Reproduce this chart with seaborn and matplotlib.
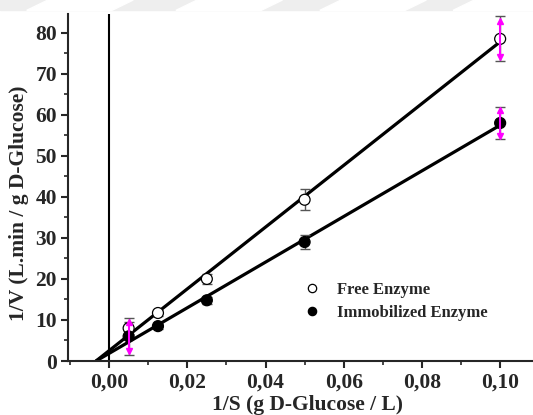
import numpy as np
import pandas as pd
import matplotlib
matplotlib.use("Agg")
import matplotlib.pyplot as plt
import seaborn as sns
from matplotlib.ticker import MultipleLocator, FuncFormatter
from matplotlib.patches import Polygon

# Lineweaver-Burk data
inv_s = [0.005, 0.0125, 0.025, 0.05, 0.1]
free_inv_v = [8.0, 11.7, 20.0, 39.3, 78.5]
free_err = [1.5, 0.8, 1.2, 2.6, 5.5]
immob_inv_v = [6.0, 8.5, 14.8, 29.0, 58.0]
immob_err = [4.5, 0.8, 0.8, 1.8, 4.0]
series_names = ["Free Enzyme", "Immobilized Enzyme"]

sns.set_style("ticks")
plt.rcParams["font.family"] = ["Liberation Serif", "DejaVu Serif"]
plt.rcParams["font.weight"] = "bold"

df = pd.DataFrame({
    "x": inv_s * 2,
    "y": free_inv_v + immob_inv_v,
    "err": free_err + immob_err,
    "series": [series_names[0]] * len(inv_s) + [series_names[1]] * len(inv_s),
})

fig = plt.figure(figsize=(5.33, 4.15), dpi=100)

# faint banner across the top of the figure
fig.patches.append(plt.Rectangle((0, 0.975), 1, 0.025, transform=fig.transFigure,
                                 color="#eeeeee", zorder=0))
for x0 in [0.05, 0.33, 0.6, 0.85]:
    fig.patches.append(Polygon([[x0, 0.975], [x0 + 0.04, 1.0], [x0 + 0.2, 1.0], [x0 + 0.16, 0.975]],
                               closed=True, transform=fig.transFigure, color="white", zorder=0))

ax = fig.add_axes([0.1276, 0.1301, 0.8724, 0.8365])
ax.set_xlim(-0.0105, 0.1084)
ax.set_ylim(0, 84.6)

# linear fits extended to the 1/V = 0 crossing
for name in series_names:
    sub = df[df["series"] == name]
    k, b = np.polyfit(sub["x"], sub["y"], 1)
    xs = np.array([-b / k, sub["x"].max()])
    sns.lineplot(x=xs, y=k * xs + b, ax=ax, color="black", lw=2.3, zorder=2)

# error bars with grey caps
for _, r in df.iterrows():
    ax.errorbar(r["x"], r["y"], yerr=r["err"], fmt="none", ecolor="#555555",
                elinewidth=1.0, capsize=3.5, capthick=1.0, zorder=3)

sns.scatterplot(data=df, x="x", y="y", hue="series", style="series",
                palette={series_names[0]: "white", series_names[1]: "black"},
                markers={series_names[0]: "o", series_names[1]: "o"},
                s=62, edgecolor="black", linewidth=0.9, ax=ax, zorder=5)

# magenta double arrows over the widest error bars
for _, r in df[df["err"] >= 4].iterrows():
    d = r["err"] * 0.8
    ax.plot([r["x"], r["x"]], [r["y"] - d, r["y"] + d], color="#ff00ff", lw=1.5, zorder=6)
    ax.plot(r["x"], r["y"] + d, marker="^", color="#ff00ff", ms=5, zorder=6)
    ax.plot(r["x"], r["y"] - d, marker="v", color="#ff00ff", ms=5, zorder=6)

# vertical reference line at 1/S = 0
ax.axvline(0, color="black", lw=1.5, zorder=1)

sns.despine(ax=ax)
for side in ["left", "bottom"]:
    ax.spines[side].set_linewidth(1.5)

ax.xaxis.set_major_locator(MultipleLocator(0.02))
ax.xaxis.set_minor_locator(MultipleLocator(0.01))
ax.yaxis.set_major_locator(MultipleLocator(10))
ax.yaxis.set_minor_locator(MultipleLocator(5))
ax.xaxis.set_major_formatter(FuncFormatter(lambda v, p: f"{v:.2f}".replace(".", ",").replace("-0,00", "0,00")))
ax.tick_params(axis="both", which="major", length=5, width=1.5, labelsize=15.5, pad=3)
ax.tick_params(axis="both", which="minor", length=3, width=1.2)
for lab in ax.get_xticklabels() + ax.get_yticklabels():
    lab.set_fontweight("bold")

ax.set_xlabel("1/S (g D-Glucose / L)", fontsize=15.5, fontweight="bold")
ax.set_ylabel("1/V (L.min / g D-Glucose)", fontsize=15.5, fontweight="bold")
ax.xaxis.set_label_coords(0.514, -0.097)
ax.yaxis.set_label_coords(-0.084, 0.455)

handles, labels = ax.get_legend_handles_labels()
for h in handles:
    if hasattr(h, "set_markersize"):
        h.set_markersize(6)
    elif hasattr(h, "set_sizes"):
        h.set_sizes([35])
leg = ax.legend(handles, labels, loc="center left", bbox_to_anchor=(0.472, 0.172),
                frameon=False, fontsize=12, handletextpad=0.9, labelspacing=0.45,
                handlelength=1.2)
for t in leg.get_texts():
    t.set_fontweight("bold")

fig.savefig("out.png", dpi=100)
